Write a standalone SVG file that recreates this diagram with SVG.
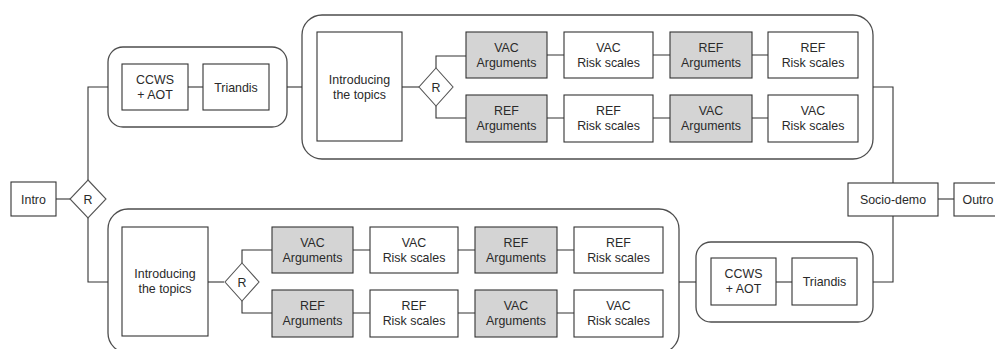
<svg xmlns="http://www.w3.org/2000/svg" width="995" height="349" viewBox="0 0 995 349">
<style>
.c{fill:#fff;stroke:#4d4d4d;stroke-width:1.3}
.b{fill:#fff;stroke:#333;stroke-width:1.1}
.g{fill:#d4d4d4;stroke:#333;stroke-width:1.1}
.d{fill:#fff;stroke:#555;stroke-width:1.1}
text{font-family:"Liberation Sans",Arial,sans-serif;font-size:12.4px;fill:#2a2a2a;text-anchor:middle}
.k path{fill:none;stroke:#333;stroke-width:1.1}
</style>
<rect width="995" height="349" fill="#fff"/>
<g id="containers">
<rect class="c" x="108" y="47" width="179" height="80" rx="15"/>
<rect class="c" x="302" y="15" width="571" height="144" rx="20"/>
<rect class="c" x="108" y="209" width="571" height="144" rx="20"/>
<rect class="c" x="696" y="242" width="177" height="80" rx="15"/>
</g>
<g class="k" id="connectors">
<path d="M56,199H72"/>
<path d="M88,180V87H108"/>
<path d="M88,218V282H108"/>
<path d="M188,87H203"/>
<path d="M287,87H302"/>
<path d="M402,87H419"/>
<path d="M436,68V56H466"/>
<path d="M436,106V118H466"/>
<path d="M547,55H564M653,55H670M752,55H768"/>
<path d="M547,118H564M653,118H670M752,118H768"/>
<path d="M873,87H893V183"/>
<path d="M938,199H954"/>
<path d="M893,216V282H873"/>
<path d="M679,282H696"/>
<path d="M776,282H792"/>
<path d="M208,282H224"/>
<path d="M242,263V250H272"/>
<path d="M242,301V313H272"/>
<path d="M353,250H370M458,250H475M557,250H574"/>
<path d="M353,313H370M458,313H475M557,313H574"/>
</g>
<g id="intro"><rect class="b" x="11" y="182" width="45" height="34"/><text x="33.5" y="203.5">Intro</text></g>
<g id="r-main"><polygon class="d" points="88,180 106,199 88,218 70,199"/><text x="88" y="203.5">R</text></g>
<g id="ccws-top"><rect class="b" x="122" y="64" width="66" height="46"/><text x="155" y="83.5">CCWS</text><text x="155" y="98.5">+ AOT</text></g>
<g id="triandis-top"><rect class="b" x="203" y="64" width="66" height="46"/><text x="236" y="91.5">Triandis</text></g>
<g id="intro-topics-top"><rect class="b" x="317" y="32" width="85" height="109"/><text x="359.5" y="83.5">Introducing</text><text x="359.5" y="98.5">the topics</text></g>
<g id="r-top"><polygon class="d" points="436,68 453,87 436,106 419,87"/><text x="436" y="91.5">R</text></g>
<g id="t1"><rect class="g" x="466" y="32" width="81" height="46"/><text x="506.5" y="51.5">VAC</text><text x="506.5" y="66.5">Arguments</text></g>
<g id="t2"><rect class="b" x="564" y="32" width="89" height="46"/><text x="608.5" y="51.5">VAC</text><text x="608.5" y="66.5">Risk scales</text></g>
<g id="t3"><rect class="g" x="670" y="32" width="82" height="46"/><text x="711" y="51.5">REF</text><text x="711" y="66.5">Arguments</text></g>
<g id="t4"><rect class="b" x="768" y="32" width="90" height="46"/><text x="813" y="51.5">REF</text><text x="813" y="66.5">Risk scales</text></g>
<g id="t5"><rect class="g" x="466" y="95" width="81" height="47"/><text x="506.5" y="114.5">REF</text><text x="506.5" y="129.5">Arguments</text></g>
<g id="t6"><rect class="b" x="564" y="95" width="89" height="47"/><text x="608.5" y="114.5">REF</text><text x="608.5" y="129.5">Risk scales</text></g>
<g id="t7"><rect class="g" x="670" y="95" width="82" height="47"/><text x="711" y="114.5">VAC</text><text x="711" y="129.5">Arguments</text></g>
<g id="t8"><rect class="b" x="768" y="95" width="90" height="47"/><text x="813" y="114.5">VAC</text><text x="813" y="129.5">Risk scales</text></g>
<g id="socio-demo"><rect class="b" x="848" y="183" width="90" height="33"/><text x="893" y="203.5">Socio-demo</text></g>
<g id="outro"><rect class="b" x="954" y="183" width="52" height="33"/><text x="978" y="203.5">Outro</text></g>
<g id="intro-topics-bottom"><rect class="b" x="122" y="227" width="86" height="109"/><text x="165" y="277.5">Introducing</text><text x="165" y="292.5">the topics</text></g>
<g id="r-bottom"><polygon class="d" points="242,263 259,282 242,301 225,282"/><text x="242" y="286.5">R</text></g>
<g id="b1"><rect class="g" x="272" y="227" width="81" height="46"/><text x="312.5" y="246.5">VAC</text><text x="312.5" y="261.5">Arguments</text></g>
<g id="b2"><rect class="b" x="370" y="227" width="88" height="46"/><text x="414" y="246.5">VAC</text><text x="414" y="261.5">Risk scales</text></g>
<g id="b3"><rect class="g" x="475" y="227" width="82" height="46"/><text x="516" y="246.5">REF</text><text x="516" y="261.5">Arguments</text></g>
<g id="b4"><rect class="b" x="574" y="227" width="89" height="46"/><text x="618.5" y="246.5">REF</text><text x="618.5" y="261.5">Risk scales</text></g>
<g id="b5"><rect class="g" x="272" y="290" width="81" height="47"/><text x="312.5" y="309.5">REF</text><text x="312.5" y="324.5">Arguments</text></g>
<g id="b6"><rect class="b" x="370" y="290" width="88" height="47"/><text x="414" y="309.5">REF</text><text x="414" y="324.5">Risk scales</text></g>
<g id="b7"><rect class="g" x="475" y="290" width="82" height="47"/><text x="516" y="309.5">VAC</text><text x="516" y="324.5">Arguments</text></g>
<g id="b8"><rect class="b" x="574" y="290" width="89" height="47"/><text x="618.5" y="309.5">VAC</text><text x="618.5" y="324.5">Risk scales</text></g>
<g id="ccws-bottom"><rect class="b" x="711" y="258" width="65" height="47"/><text x="743.5" y="277.5">CCWS</text><text x="743.5" y="292.5">+ AOT</text></g>
<g id="triandis-bottom"><rect class="b" x="792" y="258" width="65" height="47"/><text x="824.5" y="285.5">Triandis</text></g>
</svg>
